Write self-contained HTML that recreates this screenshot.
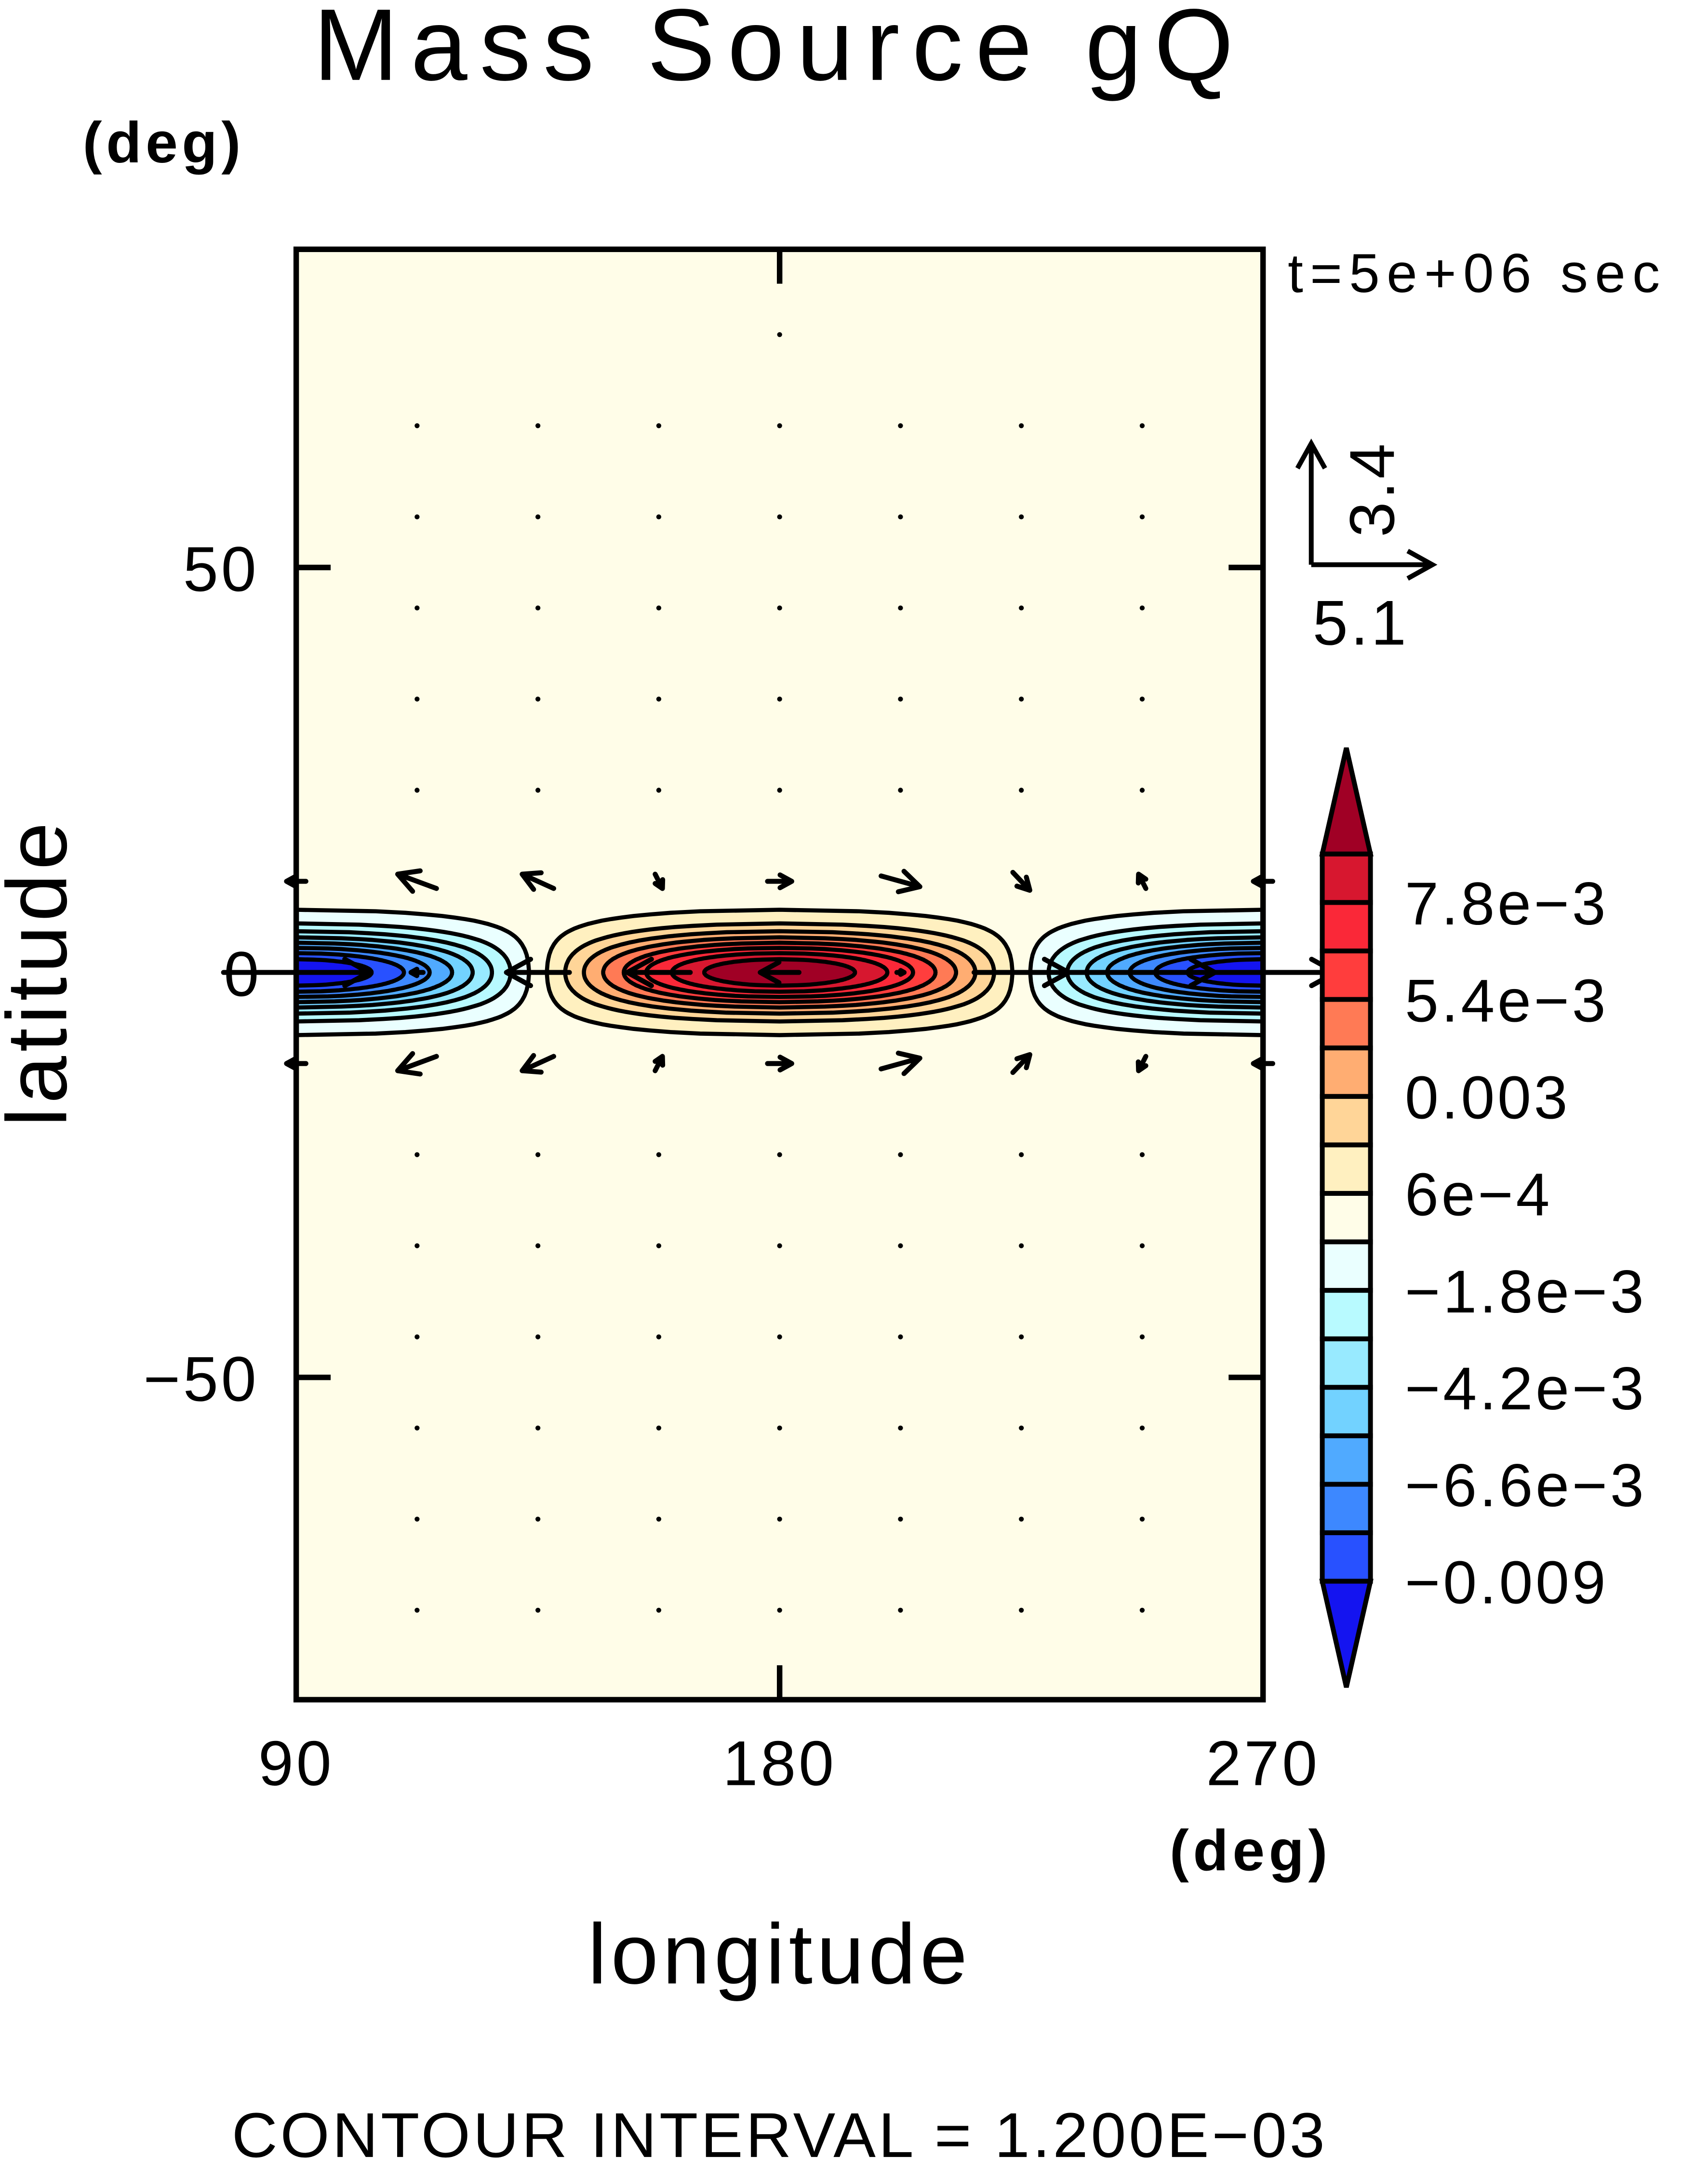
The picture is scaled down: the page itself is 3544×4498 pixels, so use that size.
<!DOCTYPE html>
<html><head><meta charset="utf-8"><style>
html,body{margin:0;padding:0;background:#fff;}
svg{display:block;}
text{font-family:"Liberation Sans",sans-serif;fill:#000;}
</style></head><body>
<svg id="chart" width="3544" height="4498" viewBox="0 0 1240 1574" xmlns="http://www.w3.org/2000/svg">
<defs><clipPath id="frameClip"><rect x="215" y="181" width="702" height="1053"/></clipPath></defs>
<text x="566" y="58" font-size="74" text-anchor="middle" letter-spacing="9">Mass Source gQ</text>
<text x="60" y="118" font-size="42" font-weight="bold" letter-spacing="3">(deg)</text>
<text x="935" y="212" font-size="40" letter-spacing="5">t=5e+06 sec</text>
<rect x="215" y="181" width="702" height="1053" fill="#fffde8"/>
<g id="contours" clip-path="url(#frameClip)"></g>
<g id="vectors"></g>
<rect x="215" y="181" width="702" height="1053" fill="none" stroke="#000" stroke-width="4"/>
<g id="axes"></g>
<text transform="translate(48,706) rotate(-90)" font-size="62" text-anchor="middle" letter-spacing="3">latitude</text>
<text x="566" y="1440" font-size="62" text-anchor="middle" letter-spacing="3">longitude</text>
<text x="908" y="1358" font-size="42" font-weight="bold" text-anchor="middle" letter-spacing="3">(deg)</text>
<text x="566" y="1566" font-size="46" text-anchor="middle" letter-spacing="2">CONTOUR INTERVAL = 1.200E−03</text>
<g stroke="#000" stroke-width="3.5" fill="none">
<path d="M952 410 L1040 410 M1022 400 L1040 410 L1022 420"/>
<path d="M952 410 L952 322 M942 340 L952 322 L962 340"/>
</g>
<text x="988" y="468" font-size="46" text-anchor="middle" letter-spacing="2">5.1</text>
<text transform="translate(1012,355) rotate(-90)" font-size="46" text-anchor="middle" letter-spacing="2">3.4</text>
<g id="colorbar"></g>
</svg>
<script>
var amplitude=0.0102;
var latWidth=4.6;
var levels=[-0.009,-0.0078,-0.0066,-0.0054,-0.0042,-0.003,-0.0018,-0.0006,0.0006,0.0018,0.003,0.0042,0.0054,0.0066,0.0078,0.009];
var boxColors=["#2851ff","#3d88ff","#50aaff","#72d2ff","#98eaff","#b8faff","#eaffff","#fffde8","#fff0c0","#ffd598","#ffad72","#ff7a55","#ff3d3d","#fa2838","#d7172f"];
var overColor="#a00025", underColor="#1414f0";
var cbLabels=["7.8e\u22123","5.4e\u22123","0.003","6e\u22124","\u22121.8e\u22123","\u22124.2e\u22123","\u22126.6e\u22123","\u22120.009"];
var cbLabelValues=[0.0078,0.0054,0.003,0.0006,-0.0018,-0.0042,-0.0066,-0.009];
var vecLons=[90,112.5,135,157.5,180,202.5,225,247.5,270];
var uEq=[6,-0.5,-2.6,-2.6,-1.6,0.3,3.9,6,6];
var u11=[-0.8,-1.6,-1.3,0.3,1,1.6,0.7,-0.3,-0.8];
var v11=[0,0.4,0.4,-0.4,0,-0.3,-0.5,0.4,0];
var dotLats=[67.5,56.25,45,33.75,22.5,-22.5,-33.75,-45,-56.25,-67.5,-78.75];
var xTicks=[90,180,270];
var yTicks=[50,0,-50];
var yTickLabels=["50","0","\u221250"];

(function(){
var SVGNS="http://www.w3.org/2000/svg";
function lonX(lon){return 215+(lon-90)*702/180;}
function latY(lat){return 706-lat*5.88;}
function mk(tag,attrs,parent){var e=document.createElementNS(SVGNS,tag);for(var k in attrs)e.setAttribute(k,attrs[k]);parent.appendChild(e);return e;}
function colorAbove(c){var i=levels.indexOf(c);return i>=levels.length-1?overColor:boxColors[i];}
function colorBelow(c){var i=levels.indexOf(c);return i<=0?underColor:boxColors[i-1];}

var cg=document.getElementById('contours');
function drawBlob(center,c,fill){
  var a=Math.abs(c)/amplitude; if(a>=1)return;
  var L=latWidth*Math.sqrt(Math.log(1/a));
  var right=[],left=[],N=80;
  for(var i=0;i<=N;i++){var lat=-L+2*L*i/N;var g=Math.exp(-Math.pow(lat/latWidth,2));
    var r=Math.min(1,a/g);var d=Math.acos(r)/2*180/Math.PI;
    right.push([lonX(center+d),latY(lat)]);left.unshift([lonX(center-d),latY(lat)]);}
  var pts=right.concat(left).map(function(p){return p[0].toFixed(1)+','+p[1].toFixed(1);}).join(' ');
  var p=mk('polygon',{points:pts,fill:fill,stroke:'#000','stroke-width':3,'stroke-linejoin':'round'},cg);
  
  
}
try{
levels.filter(function(c){return c>0;}).forEach(function(c){drawBlob(180,c,colorAbove(c));});
levels.filter(function(c){return c<0;}).sort(function(a,b){return b-a;}).forEach(function(c){drawBlob(90,c,colorBelow(c));drawBlob(270,c,colorBelow(c));});
}catch(e){}

var vg=document.getElementById('vectors');
var su=17.6, sv=26;
function drawArrow(lon,lat,u,v){
  var cx=lonX(lon),cy=latY(lat);var dx=u*su,dy=-v*sv;var len=Math.sqrt(dx*dx+dy*dy);
  if(len<3){var dot=mk('circle',{cx:cx,cy:cy,r:1.8,fill:'#000'},vg);return;}
  var x1=cx-dx/2,y1=cy-dy/2,x2=cx+dx/2,y2=cy+dy/2;var h=Math.min(20,len*0.55);var ang=Math.atan2(dy,dx);
  var hx1=x2-h*Math.cos(ang-0.5),hy1=y2-h*Math.sin(ang-0.5),hx2=x2-h*Math.cos(ang+0.5),hy2=y2-h*Math.sin(ang+0.5);
  var p=mk('path',{d:'M'+x1+' '+y1+'L'+x2+' '+y2+'M'+hx1+' '+hy1+'L'+x2+' '+y2+'L'+hx2+' '+hy2,stroke:'#000','stroke-width':3.6,fill:'none','stroke-linecap':'round','stroke-linejoin':'round'},vg);
  
  
}
try{
vecLons.forEach(function(lon,i){drawArrow(lon,0,uEq[i],0);drawArrow(lon,11.25,u11[i],v11[i]);drawArrow(lon,-11.25,u11[i],-v11[i]);});
dotLats.forEach(function(lat){vecLons.slice(1,8).forEach(function(lon){drawArrow(lon,lat,0,0);});});
drawArrow(180,78.75,0,0);
}catch(e){}

var ag=document.getElementById('axes');
try{
xTicks.forEach(function(t){
  if(t===180){var a=mk('path',{d:'M'+lonX(t)+' 181V206M'+lonX(t)+' 1234V1209',stroke:'#000','stroke-width':4},ag);}
  var tx=mk('text',{x:lonX(t),y:1296,'font-size':46,'text-anchor':'middle','letter-spacing':2},ag);tx.textContent=String(t);
  
  
});
yTicks.forEach(function(t,i){
  if(t!==0){var a=mk('path',{d:'M215 '+latY(t)+'H240M917 '+latY(t)+'H892',stroke:'#000','stroke-width':4},ag);}
  var tx=mk('text',{x:t===0?190:188,y:latY(t)+17,'font-size':46,'text-anchor':'end','letter-spacing':2},ag);tx.textContent=yTickLabels[i];
  
  
});
}catch(e){}

var cb=document.getElementById('colorbar');
function cbY(v){return 1148-(v+0.009)/0.0012*35.2;}
var bx=960,bw=35;
try{
boxColors.forEach(function(c,i){var r=mk('rect',{x:bx,y:cbY(levels[i+1]),width:bw,height:cbY(levels[i])-cbY(levels[i+1]),fill:c,stroke:'#000','stroke-width':3.5},cb);});
var t1=mk('polygon',{points:bx+','+cbY(0.009)+' '+(bx+bw/2)+',543 '+(bx+bw)+','+cbY(0.009),fill:overColor,stroke:'#000','stroke-width':3.5},cb);


var t2=mk('polygon',{points:bx+','+cbY(-0.009)+' '+(bx+bw/2)+',1225 '+(bx+bw)+','+cbY(-0.009),fill:underColor,stroke:'#000','stroke-width':3.5},cb);


cbLabels.forEach(function(s,i){var t=mk('text',{x:1020,y:cbY(cbLabelValues[i])+16,'font-size':44,'letter-spacing':2},cb);t.textContent=s;});
}catch(e){}
})();
</script>
</body></html>
